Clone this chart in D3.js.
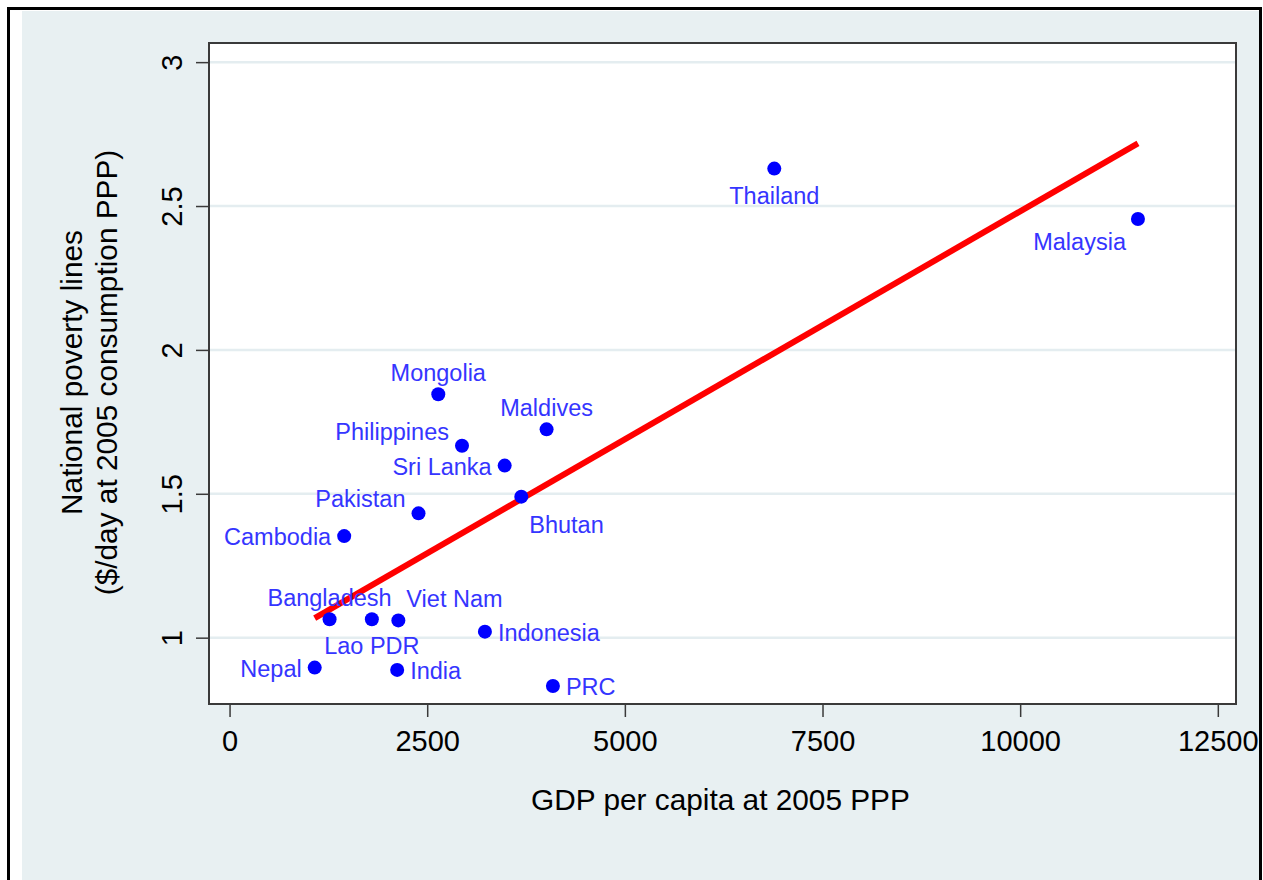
<!DOCTYPE html>
<html>
<head>
<meta charset="utf-8">
<script src="https://cdn.jsdelivr.net/npm/d3@7"></script>
<style>
  html, body { margin: 0; padding: 0; background: #ffffff; }
  svg { display: block; font-family: "Liberation Sans", Arial, sans-serif; }
</style>
</head>
<body>
<svg id="chart" width="1263" height="880"></svg>
<script>
// Countries, GDP per capita (2005 PPP) and national poverty lines ($/day)
const countries = ["Thailand", "Malaysia", "Mongolia", "Maldives", "Philippines", "Sri Lanka",
  "Bhutan", "Pakistan", "Cambodia", "Bangladesh", "Lao PDR", "Viet Nam", "Nepal", "India",
  "Indonesia", "PRC"];
const gdpPerCapita = [6890, 11490, 2640, 4010, 2940, 3480, 3690, 2390, 1450, 1265, 1800, 2135,
  1077, 2120, 3230, 4090];
const povertyLine = [2.63, 2.455, 1.846, 1.724, 1.667, 1.598, 1.490, 1.432, 1.353, 1.064, 1.064,
  1.060, 0.896, 0.888, 1.021, 0.832];
// Marker label placement, as clock positions
const labelClock = [6, 7, 12, 12, 10, 9, 5, 10, 9, 12, 6, 1, 9, 3, 3, 3];

const xTicks = [0, 2500, 5000, 7500, 10000, 12500];
const yTicks = [1, 1.5, 2, 2.5, 3];
const xTitle = "GDP per capita at 2005 PPP";
const yTitle = ["National poverty lines", "($/day at 2005 consumption PPP)"];

const svg = d3.select("#chart");
const W = 1263, H = 880;

// frame and graph background
svg.append("rect").attr("x", 22).attr("y", 11).attr("width", 1237).attr("height", H)
  .attr("fill", "#e8f0f2");
svg.append("rect").attr("x", 8.5).attr("y", 8.5).attr("width", 1252).attr("height", H + 20)
  .attr("fill", "none").attr("stroke", "#000").attr("stroke-width", 3);

const plot = { left: 209, right: 1236, top: 43, bottom: 704 };

const x = d3.scaleLinear().domain([-260, 12730]).range([plot.left, plot.right]);
const y = d3.scaleLinear().domain([0.7695, 3.0665]).range([plot.bottom, plot.top]);

// plot region
svg.append("rect").attr("x", plot.left).attr("y", plot.top)
  .attr("width", plot.right - plot.left).attr("height", plot.bottom - plot.top)
  .attr("fill", "#ffffff");

// horizontal grid
svg.append("g").selectAll("line").data(yTicks).join("line")
  .attr("x1", plot.left).attr("x2", plot.right)
  .attr("y1", d => y(d)).attr("y2", d => y(d))
  .attr("stroke", "#e4edf0").attr("stroke-width", 2.5);

// plot region border
svg.append("rect").attr("x", plot.left).attr("y", plot.top)
  .attr("width", plot.right - plot.left).attr("height", plot.bottom - plot.top)
  .attr("fill", "none").attr("stroke", "#3a3a3a").attr("stroke-width", 2);

// x axis
const xAxis = d3.axisBottom(x).tickValues(xTicks).tickSize(12).tickPadding(13)
  .tickFormat(d3.format("d"));
const gx = svg.append("g").attr("transform", `translate(0,${plot.bottom + 1})`).call(xAxis);
gx.select(".domain").remove();
gx.selectAll(".tick line").attr("stroke", "#3a3a3a").attr("stroke-width", 1.5);
gx.selectAll(".tick text").attr("fill", "#000").style("font-size", "29px")
  .style("font-family", "'Liberation Sans', Arial, sans-serif");

// y axis, labels rotated
const yAxis = d3.axisLeft(y).tickValues(yTicks).tickSize(12).tickFormat(d3.format("~g"));
const gy = svg.append("g").attr("transform", `translate(${plot.left - 1},0)`).call(yAxis);
gy.select(".domain").remove();
gy.selectAll(".tick line").attr("stroke", "#3a3a3a").attr("stroke-width", 1.5);
gy.selectAll(".tick text")
  .attr("x", null).attr("dy", null)
  .attr("transform", "translate(-26,0) rotate(-90)")
  .attr("text-anchor", "middle")
  .attr("fill", "#000").style("font-size", "29px")
  .style("font-family", "'Liberation Sans', Arial, sans-serif");

// axis titles
svg.append("text").attr("x", (plot.left + plot.right) / 2 - 2).attr("y", 810)
  .attr("text-anchor", "middle").attr("font-size", 29.8).attr("fill", "#000").text(xTitle);
const yt = svg.append("text").attr("transform", `translate(0,${(plot.top + plot.bottom) / 2 - 1}) rotate(-90)`)
  .attr("text-anchor", "middle").attr("font-size", 29.8).attr("fill", "#000");
yt.selectAll("tspan").data(yTitle).join("tspan")
  .attr("x", 0).attr("y", (d, i) => 82 + i * 35).text(d => d);

// points
const data = countries.map((c, i) => ({
  name: c, gdp: gdpPerCapita[i], pl: povertyLine[i], clock: labelClock[i]
}));

// linear fit over the observed range
const mx = d3.mean(data, d => d.gdp), my = d3.mean(data, d => d.pl);
const slope = d3.sum(data, d => (d.gdp - mx) * (d.pl - my)) / d3.sum(data, d => (d.gdp - mx) ** 2);
const intercept = my - slope * mx;
const [xmin, xmax] = d3.extent(data, d => d.gdp);
svg.append("path")
  .datum([xmin, xmax])
  .attr("d", d3.line().x(v => x(v)).y(v => y(intercept + slope * v)))
  .attr("stroke", "#ff0000").attr("stroke-width", 6).attr("fill", "none");

svg.append("g").selectAll("circle").data(data).join("circle")
  .attr("cx", d => x(d.gdp)).attr("cy", d => y(d.pl)).attr("r", 7)
  .attr("fill", "#0000ff");

// label offsets by clock position
const clockOffset = {
  12: [0, -13, "middle"], 6: [0, 35, "middle"],
  3: [13, 9, "start"], 9: [-13, 9, "end"],
  10: [-13, -6, "end"], 1: [8, -13, "start"],
  5: [8, 36, "start"], 7: [-12, 31, "end"]
};
svg.append("g").selectAll("text").data(data).join("text")
  .attr("x", d => x(d.gdp) + clockOffset[d.clock][0])
  .attr("y", d => y(d.pl) + clockOffset[d.clock][1])
  .attr("text-anchor", d => clockOffset[d.clock][2])
  .attr("font-size", 23.5).attr("fill", "#3535ff")
  .text(d => d.name);
</script>
</body>
</html>
